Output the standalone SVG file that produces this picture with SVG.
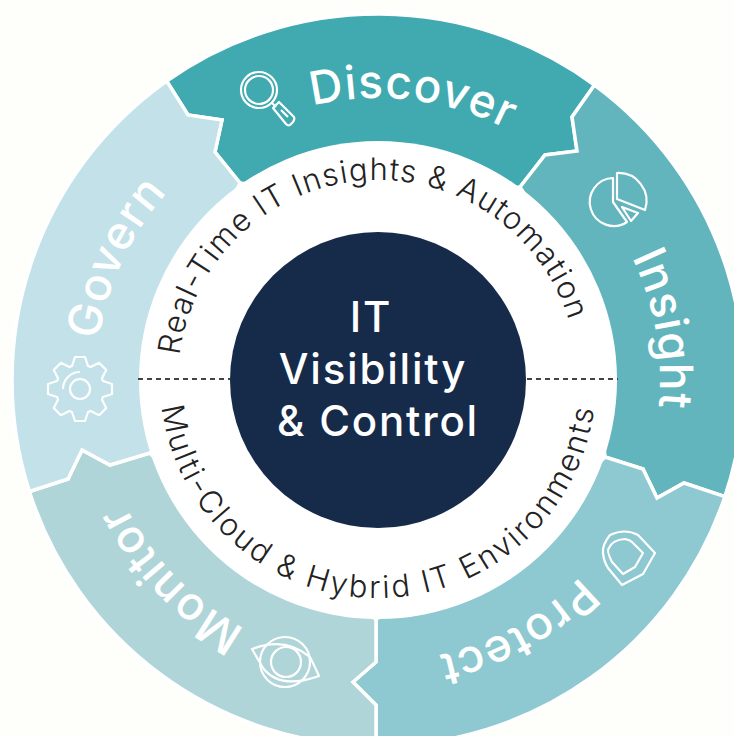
<svg xmlns="http://www.w3.org/2000/svg" width="734" height="736" viewBox="0 0 734 736">
<style>
.w{stroke:#fff;stroke-width:3.5;stroke-linejoin:miter}
.l{font-family:Inter,"Noto Sans",sans-serif;font-weight:500;font-size:46px;letter-spacing:1px;fill:#fff;text-anchor:middle}
.r{font-family:Inter,"Noto Sans",sans-serif;font-weight:300;fill:#222;text-anchor:middle}
.c{font-family:Inter,"Noto Sans",sans-serif;font-weight:500;font-size:42px;letter-spacing:1.8px;fill:#fff;text-anchor:middle}
.i{fill:none;stroke:#fff;stroke-width:2.2;stroke-linejoin:round}
.d{stroke:#444;stroke-width:2;stroke-dasharray:5 4}
</style>
<defs>
<path id="arc" d="M96 380A282 282 0 0 1 660 380"/>
<path id="top" d="M178 380A200 200 0 0 1 578 380"/>
<path id="bot" d="M160 380A218 218 0 0 0 596 380"/>
</defs>
<rect width="734" height="736" fill="#FEFFFA"/>
<g id="wedges">
<g id="discover"><path class="w" fill="#40AAB0" d="M166.700 81.100A366 366 0 0 1 594.500 85L572 117L577 151L545 155L520 187L378 200L240 183L215 152L222 120L188 115Z"/>
<g class="i"><circle cx="259" cy="90" r="18"/><circle cx="259" cy="90" r="14"/><path d="M272 103L276 107"/><path d="M273 108L279 102L294 117Q295 119 293 122L290 125Q288 126 286 124Z"/><path d="M281 110L288 117"/></g></g>
<g id="insight"><path class="w" fill="#62B5BC" d="M594.500 85A366 366 0 0 1 724.900 496.600L684 483L657 498L643 469L605 457L590 300L520 187L545 155L577 151L572 117Z"/>
<g class="i"><path d="M613 178A24 24 0 1 0 627 222L613 202Z"/><path d="M617 173A28 28 0 0 1 645 210L617 199Z"/><path d="M622 207L638 213L631 221Z"/></g></g>
<g id="protect"><path class="w" fill="#8EC8D0" d="M724.900 496.600A366 366 0 0 1 376 746L376 705L353 682L376 662L376 619L500 560L605 457L643 469L657 498L684 483Z"/>
<g class="i"><path d="M655 553L638 535Q625 528 610 535Q602 545 603 553Q604 562 608 568L622 585L643 574Z"/><path d="M643 553L635 567L623 574L612 562Q606 550 609 548Q612 540 625 539Q630 540 632 542Z"/></g></g>
<g id="monitor"><path class="w" fill="#B0D5D8" d="M376 746A366 366 0 0 1 29.400 491.500L68 479L82 450L110 465L150 453L250 560L376 619L376 662L353 682L376 705Z"/>
<g class="i"><path d="M252 649Q285 636 310 657Q315 667 319 676Q280 690 263 668Z"/><circle cx="285" cy="662" r="25"/><circle cx="286" cy="662" r="15"/></g></g>
<g id="govern"><path class="w" fill="#C3E1E8" d="M29.400 491.500A366 366 0 0 1 166.700 81.100L188 115L222 120L215 152L240 183L185 300L180 430L150 453L110 465L82 450L68 479Z"/>
<g class="i" transform="translate(80 389)"><path d="M-8 -23L-5 -32L5 -32L8 -23L10.600 -21.900L19.100 -26.200L26.200 -19.100L21.900 -10.600L23 -8L32 -5L32 5L23 8L21.900 10.600L26.200 19.100L19.100 26.200L10.600 21.900L8 23L5 32L-5 32L-8 23L-10.600 21.900L-19.100 26.200L-26.200 19.100L-21.900 10.600L-23 8L-32 5L-32 -5L-23 -8L-21.900 -10.600L-26.200 -19.100L-19.100 -26.200L-10.600 -21.900Z"/><circle r="10"/><path d="M-17 0A17 17 0 0 1 0 -17"/></g></g>
</g>
<circle cx="378" cy="380" r="239" fill="#fff"/>
<g id="connectors"><path class="d" d="M138 379H230"/><path class="d" d="M527 379H618"/></g>
<g id="center"><circle cx="378" cy="380" r="148" fill="#162A4A"/>
<text class="c" x="371" y="332">IT</text><text class="c" x="373" y="384">Visibility</text><text class="c" x="378" y="436" letter-spacing="2.4">&amp; Control</text></g>
<g id="labels">
<text class="l" transform="rotate(7 378 380)"><textPath href="#arc" startOffset="50%">Discover</textPath></text>
<text class="l" transform="rotate(80 378 380)"><textPath href="#arc" startOffset="50%">Insight</textPath></text>
<text class="l" transform="rotate(151 378 380)"><textPath href="#arc" startOffset="50%">Protect</textPath></text>
<text class="l" transform="rotate(226 378 380)"><textPath href="#arc" startOffset="50%">Monitor</textPath></text>
<text class="l" transform="rotate(295 378 380)"><textPath href="#arc" startOffset="50%">Govern</textPath></text>
<text class="r" font-size="31" letter-spacing="1.2" transform="rotate(-5 378 380)"><textPath href="#top" startOffset="50%">Real-Time IT Insights &amp; Automation</textPath></text>
<text class="r" font-size="31" letter-spacing="2.4"><textPath href="#bot" startOffset="50%">Multi-Cloud &amp; Hybrid IT Environments</textPath></text>
</g>
</svg>
